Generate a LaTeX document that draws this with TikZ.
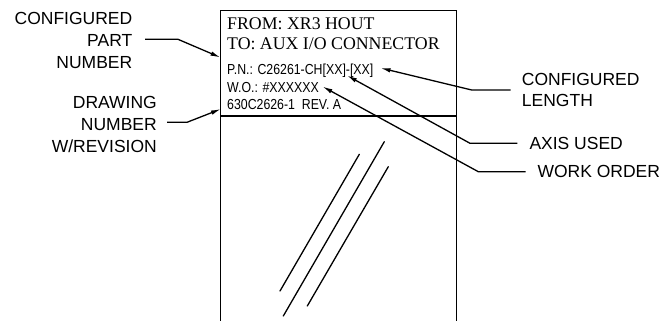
\documentclass[tikz,border=0pt]{standalone}
\usepackage{fontspec}
\setmainfont{Liberation Serif}
\newfontfamily\lsans{Liberation Sans}
\newfontfamily\nsans[FakeStretch=0.85]{Liberation Sans}
\usetikzlibrary{arrows.meta}
\tikzset{
  lbl/.style={font=\lsans\fontsize{17.5}{22}\selectfont, inner sep=0pt},
  boxtxt/.style={font=\fontsize{17.8}{20}\selectfont, inner sep=0pt, anchor=base west},
  smalltxt/.style={font=\nsans\fontsize{14.5}{17}\selectfont, inner sep=0pt, anchor=base west},
  leader/.style={line width=1.3pt, -{Latex[length=10pt,width=4.5pt]}},
  frame/.style={line width=1.8pt},
  hatch/.style={line width=1.3pt, line cap=round},
}
\begin{document}
\begin{tikzpicture}[x=1pt,y=-1pt]
\useasboundingbox (0,0) rectangle (667,321);

% frame
\draw[frame] (220.5,322) -- (220.5,10.5) -- (456.5,10.5) -- (456.5,322);
\draw[frame] (220.5,116) -- (456.5,116);

% box texts
\node[boxtxt] (from) at (227,29.5) {FROM: XR3 HOUT};
\node[boxtxt] (to) at (227,50) {TO: AUX I/O CONNECTOR};
\node[smalltxt] (pn) at (227,75) {P.N.: C26261-CH[XX]-[XX]};
\node[smalltxt] (wo) at (227,92.3) {W.O.: \#XXXXXX};
\node[smalltxt] (dwg) at (227,110) {630C2626-1\ \ REV. A};

% labels
\node[lbl, align=right, anchor=east] (lcpn) at (132.5,40) {CONFIGURED\\PART\\NUMBER};
\node[lbl, align=right, anchor=east] (ldwg) at (157,124) {DRAWING\\NUMBER\\W/REVISION};
\node[lbl, align=left, anchor=west, font=\lsans\fontsize{17.5}{21.2}\selectfont] (llen) at (521.7,90) {CONFIGURED\\LENGTH};
\node[lbl, anchor=west] (laxis) at (529.3,143.7) {AXIS USED};
\node[lbl, anchor=west] (lwo) at (537.3,171.7) {WORK ORDER};

% leader coordinates
\coordinate (pnA) at (145,39.3);
\coordinate (pnB) at (178,39.3);
\coordinate (pnT) at (220.5,57.5);
\coordinate (dwA) at (167,122.3);
\coordinate (dwB) at (187,122.3);
\coordinate (dwT) at (221,109);
\coordinate (lnA) at (510.7,90);
\coordinate (lnB) at (471.7,90);
\coordinate (lnT) at (380.5,68);
\coordinate (axA) at (517.3,143.3);
\coordinate (axB) at (470,143.3);
\coordinate (axT) at (347,75.5);
\coordinate (woA) at (525.7,171.7);
\coordinate (woB) at (478.3,171.7);
\coordinate (woT) at (322.5,86.5);

\draw[leader] (pnA) -- (pnB) -- (pnT);
\draw[leader] (dwA) -- (dwB) -- (dwT);
\draw[leader] (lnA) -- (lnB) -- (lnT);
\draw[leader] (axA) -- (axB) -- (axT);
\draw[leader] (woA) -- (woB) -- (woT);

% break lines
\draw[hatch] (280,291) -- (359.3,154.3);
\draw[hatch] (283.3,316) -- (384.3,141.7);
\draw[hatch] (307.3,306) -- (388.3,166.7);
\end{tikzpicture}
\end{document}
